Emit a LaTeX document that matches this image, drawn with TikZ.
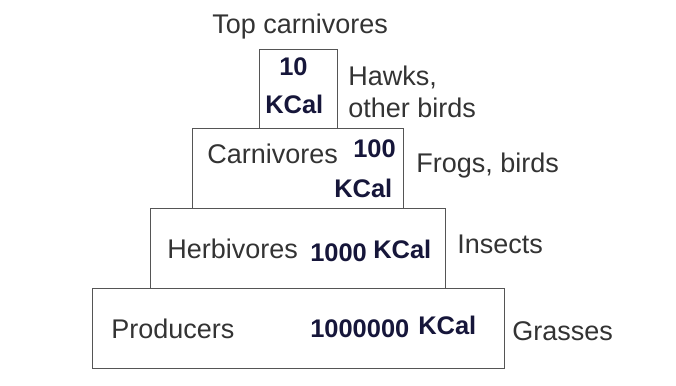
\documentclass[tikz,border=0pt]{standalone}
\usepackage{fontspec}
\setmainfont{Liberation Sans}
\definecolor{txt}{RGB}{51,51,51}
\definecolor{num}{RGB}{22,22,58}
\definecolor{edge}{RGB}{85,85,85}
\begin{document}
\begin{tikzpicture}[x=0.75pt,y=-0.75pt,
  lvl/.style={draw=edge, line width=1.1pt, rectangle, anchor=north west, inner sep=0pt},
  lab/.style={anchor=base west, inner sep=0pt, text=txt, font=\fontsize{20.25pt}{24pt}\selectfont},
  val/.style={anchor=base west, inner sep=0pt, text=num, font=\fontsize{19.1pt}{23pt}\selectfont\bfseries}]
\useasboundingbox (0,0) rectangle (676,386);
% boxes
\node[lvl, minimum width={78*0.75pt}, minimum height={79*0.75pt}] (top) at (259,49) {};
\node[lvl, minimum width={211*0.75pt}, minimum height={80*0.75pt}] (carn) at (192,128) {};
\node[lvl, minimum width={295*0.75pt}, minimum height={80*0.75pt}] (herb) at (150,208) {};
\node[lvl, minimum width={412*0.75pt}, minimum height={80*0.75pt}] (prod) at (92,288) {};
% labels
\node[lab] (toplab) at (212,33) {Top carnivores};
\node[val] (topv1) at (279,75) {10};
\node[val] (topv2) at (265,113) {KCal};
\node[lab] (hawks) at (348,85) {Hawks,};
\node[lab] (other) at (348,117) {other birds};
\node[lab] (carnlab) at (207,163) {Carnivores};
\node[val] (carnv1) at (353,157) {100};
\node[val] (carnv2) at (334,197) {KCal};
\node[lab] (frogs) at (416,172) {Frogs, birds};
\node[lab] (herblab) at (167,258) {Herbivores};
\node[val] (herbv1) at (310,261) {1000};
\node[val] (herbv2) at (373,258) {KCal};
\node[lab] (insects) at (457,253) {Insects};
\node[lab] (prodlab) at (111,338) {Producers};
\node[val] (prodv1) at (310,337) {1000000};
\node[val] (prodv2) at (418,334) {KCal};
\node[lab] (grasses) at (512,340) {Grasses};
\end{tikzpicture}
\end{document}
